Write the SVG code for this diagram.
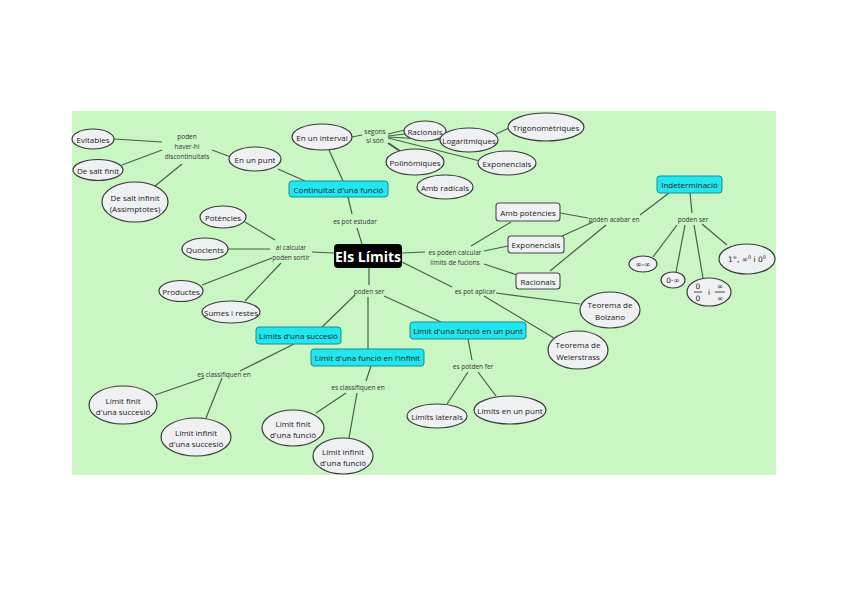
<svg xmlns="http://www.w3.org/2000/svg" width="848" height="599" viewBox="0 0 848 599">
<style>
text{font-family:"Open Sans","Liberation Sans",sans-serif;fill:#222;text-anchor:middle;dominant-baseline:central}
.n{font-size:8px}
.m{font-family:"DejaVu Sans",sans-serif;font-size:7.5px}
.l{font-size:6.5px;fill:#333}
.e{fill:#eef0f2;stroke:#3a3a3a;stroke-width:1.2}
.c{fill:#1fe6ef;stroke:#1a8d94;stroke-width:1}
.g{fill:#f0f1f2;stroke:#4a4a4a;stroke-width:1.1}
#connectors line{stroke:#45604a;stroke-width:1.2}
</style>
<rect x="0" y="0" width="848" height="599" fill="#fff"/>
<rect x="72" y="111" width="704" height="364" fill="#c9f6c3"/>
<g id="connectors">
<line x1="114" y1="139" x2="162" y2="142"/>
<line x1="122" y1="165" x2="162" y2="150"/>
<line x1="155" y1="186" x2="182" y2="164"/>
<line x1="212" y1="150" x2="231" y2="157"/>
<line x1="278" y1="169" x2="305" y2="181"/>
<line x1="329" y1="150" x2="343" y2="181"/>
<line x1="348" y1="197" x2="352" y2="214"/>
<line x1="357" y1="228" x2="362" y2="244"/>
<line x1="352" y1="137" x2="362" y2="135"/>
<line x1="388" y1="134" x2="405" y2="130"/>
<line x1="388" y1="136" x2="405" y2="134"/>
<line x1="388" y1="137" x2="442" y2="140"/>
<line x1="388" y1="138" x2="480" y2="161"/>
<line x1="388" y1="143" x2="400" y2="151" style="stroke-width:2"/>
<line x1="496" y1="134" x2="509" y2="128"/>
<line x1="245" y1="222" x2="275" y2="240"/>
<line x1="228" y1="249" x2="270" y2="249"/>
<line x1="202" y1="285" x2="272" y2="258"/>
<line x1="245" y1="301" x2="281" y2="263"/>
<line x1="312" y1="252" x2="334" y2="253"/>
<line x1="402" y1="253" x2="425" y2="252"/>
<line x1="471" y1="246" x2="511" y2="222"/>
<line x1="484" y1="251" x2="508" y2="246"/>
<line x1="484" y1="264" x2="517" y2="275"/>
<line x1="560" y1="213" x2="588" y2="218"/>
<line x1="562" y1="236" x2="593" y2="222"/>
<line x1="550" y1="271" x2="606" y2="225"/>
<line x1="640" y1="215" x2="669" y2="193"/>
<line x1="690" y1="193" x2="692" y2="213"/>
<line x1="677" y1="225" x2="653" y2="257"/>
<line x1="685" y1="225" x2="676" y2="272"/>
<line x1="694" y1="225" x2="703" y2="278"/>
<line x1="702" y1="224" x2="727" y2="245"/>
<line x1="402" y1="262" x2="452" y2="287"/>
<line x1="496" y1="293" x2="580" y2="304"/>
<line x1="484" y1="296" x2="554" y2="338"/>
<line x1="369" y1="268" x2="369" y2="285"/>
<line x1="355" y1="295" x2="322" y2="327"/>
<line x1="368" y1="297" x2="368" y2="349"/>
<line x1="384" y1="296" x2="441" y2="322"/>
<line x1="294" y1="344" x2="240" y2="371"/>
<line x1="204" y1="378" x2="155" y2="395"/>
<line x1="222" y1="378" x2="206" y2="418"/>
<line x1="371" y1="366" x2="366" y2="381"/>
<line x1="346" y1="393" x2="316" y2="413"/>
<line x1="357" y1="393" x2="349" y2="438"/>
<line x1="468" y1="339" x2="472" y2="360"/>
<line x1="468" y1="372" x2="447" y2="404"/>
<line x1="478" y1="372" x2="496" y2="396"/>
</g>
<g id="lbl-discont"><text class="l" x="187" y="136">poden</text><text class="l" x="187" y="146">haver-hi</text><text class="l" x="187" y="156">discontinuitats</text></g>
<g id="lbl-segons"><text class="l" x="375" y="131">segons</text><text class="l" x="375" y="140">si són</text></g>
<g id="lbl-estudar"><text class="l" x="355" y="221">es pot estudar</text></g>
<g id="lbl-alcalcular"><text class="l" x="291" y="247">al calcular</text><text class="l" x="291" y="257">poden sortir</text></g>
<g id="lbl-calcular"><text class="l" x="455" y="252">es poden calcular</text><text class="l" x="455" y="262">límits de fucions</text></g>
<g id="lbl-acabar"><text class="l" x="614" y="219">poden acabar en</text></g>
<g id="lbl-podenser2"><text class="l" x="693" y="219">poden ser</text></g>
<g id="lbl-aplicar"><text class="l" x="475" y="291">es pot aplicar</text></g>
<g id="lbl-podenser"><text class="l" x="369" y="291">poden ser</text></g>
<g id="lbl-class1"><text class="l" x="224" y="374">es classifiquen en</text></g>
<g id="lbl-class2"><text class="l" x="358" y="387">es classifiquen en</text></g>
<g id="lbl-fer"><text class="l" x="473" y="366">es potden fer</text></g>

<g id="evitables"><ellipse class="e" cx="93" cy="139" rx="21" ry="10"/><text class="n" x="93" y="139">Evitables</text></g>
<g id="saltfinit"><ellipse class="e" cx="98" cy="170" rx="25" ry="10.5"/><text class="n" x="98" y="170">De salt finit</text></g>
<g id="saltinfinit"><ellipse class="e" cx="135" cy="202" rx="33" ry="20"/><text class="n" x="135" y="197">De salt infinit</text><text class="n" x="135" y="208">(Assimptotes)</text></g>
<g id="enunpunt"><ellipse class="e" cx="255" cy="159" rx="26" ry="12"/><text class="n" x="255" y="159">En un punt</text></g>
<g id="eninterval"><ellipse class="e" cx="322" cy="137" rx="30" ry="13"/><text class="n" x="322" y="137">En un interval</text></g>
<g id="trigo"><ellipse class="e" cx="546" cy="127" rx="38" ry="14"/><text class="n" x="546" y="127">Trigonomètriques</text></g>
<g id="racionals1"><ellipse class="e" cx="425" cy="131" rx="21" ry="10"/><text class="n" x="425" y="131">Racionals</text></g>
<g id="logaritmiques"><ellipse class="e" cx="469" cy="140" rx="29" ry="12"/><text class="n" x="469" y="140">Logarítmiques</text></g>
<g id="exponencials1"><ellipse class="e" cx="507" cy="163" rx="29" ry="12"/><text class="n" x="507" y="163">Exponencials</text></g>
<g id="polinomiques"><ellipse class="e" cx="415" cy="162" rx="29" ry="13"/><text class="n" x="415" y="162">Polinòmiques</text></g>
<g id="radicals"><ellipse class="e" cx="445" cy="187" rx="28" ry="12"/><text class="n" x="445" y="187">Amb radicals</text></g>
<g id="continuitat"><rect class="c" x="289" y="181" width="99" height="16" rx="3"/><text class="n" x="338.5" y="189">Continuïtat d'una funció</text></g>
<g id="elslimits"><rect x="334" y="244" width="68" height="24" rx="4" fill="#000"/><text x="368" y="256" style="font-size:14px;font-weight:bold;fill:#fff">Els Límits</text></g>
<g id="potencies"><ellipse class="e" cx="223" cy="217" rx="23" ry="11"/><text class="n" x="223" y="217">Potències</text></g>
<g id="quocients"><ellipse class="e" cx="205" cy="249" rx="23" ry="11"/><text class="n" x="205" y="249">Quocients</text></g>
<g id="productes"><ellipse class="e" cx="181" cy="291" rx="22" ry="10.5"/><text class="n" x="181" y="291">Productes</text></g>
<g id="sumes"><ellipse class="e" cx="231" cy="312" rx="29" ry="11"/><text class="n" x="231" y="312">Sumes i restes</text></g>
<g id="ambpotencies"><rect class="g" x="496" y="203" width="64" height="18" rx="3"/><text class="n" x="528" y="212">Amb potències</text></g>
<g id="exponencials2"><rect class="g" x="508" y="236" width="56" height="17" rx="3"/><text class="n" x="536" y="244.5">Exponencials</text></g>
<g id="racionals2"><rect class="g" x="516" y="273" width="44" height="16" rx="3"/><text class="n" x="538" y="281">Racionals</text></g>
<g id="indeterminacio"><rect class="c" x="657" y="176" width="65" height="17" rx="3"/><text class="n" x="689.5" y="184.5">Indeterminació</text></g>
<g id="infmenysinf"><ellipse class="e" cx="643" cy="264" rx="14" ry="8"/><text class="m" x="643" y="264">∞-∞</text></g>
<g id="zeroinf"><ellipse class="e" cx="673" cy="280" rx="12" ry="8"/><text class="m" x="673" y="280">0·∞</text></g>
<g id="fraccions"><ellipse class="e" cx="709" cy="292" rx="22" ry="14"/>
<text class="m" x="698" y="286">0</text><line x1="694" y1="292" x2="702" y2="292" stroke="#222" stroke-width="0.8"/><text class="m" x="698" y="298">0</text>
<text class="m" x="709" y="292">i</text>
<text class="m" x="720" y="286">∞</text><line x1="715" y1="292" x2="725" y2="292" stroke="#222" stroke-width="0.8"/><text class="m" x="720" y="298">∞</text></g>
<g id="potinf"><ellipse class="e" cx="747" cy="259" rx="28" ry="15"/><text class="m" x="747" y="262" style="dominant-baseline:auto">1<tspan baseline-shift="super" font-size="5">∞</tspan>, ∞<tspan baseline-shift="super" font-size="5">0</tspan> i 0<tspan baseline-shift="super" font-size="5">0</tspan></text></g>
<g id="bolzano"><ellipse class="e" cx="610" cy="310" rx="30" ry="18"/><text class="n" x="610" y="304">Teorema de</text><text class="n" x="610" y="316">Bolzano</text></g>
<g id="weierstrass"><ellipse class="e" cx="578" cy="350" rx="30" ry="19"/><text class="n" x="578" y="344">Teorema de</text><text class="n" x="578" y="356">Weierstrass</text></g>
<g id="succesio"><rect class="c" x="256" y="327" width="85" height="17" rx="3"/><text class="n" x="298.5" y="335.5">Límits d'una succesió</text></g>
<g id="infinit"><rect class="c" x="311" y="349" width="113" height="17" rx="3"/><text class="n" x="367.5" y="357.5">Límit d'una funció en l'infinit</text></g>
<g id="enunpuntlim"><rect class="c" x="410" y="322" width="116" height="17" rx="3"/><text class="n" x="468" y="330.5">Límit d'una funció en un punt</text></g>
<g id="finitsucc"><ellipse class="e" cx="123" cy="405" rx="34" ry="19"/><text class="n" x="123" y="400">Límit finit</text><text class="n" x="123" y="411">d'una succesió</text></g>
<g id="infinitsucc"><ellipse class="e" cx="196" cy="437" rx="35" ry="19"/><text class="n" x="196" y="432">Límit infinit</text><text class="n" x="196" y="443">d'una succesió</text></g>
<g id="finitfunc"><ellipse class="e" cx="293" cy="428" rx="31" ry="18"/><text class="n" x="293" y="423">Límit finit</text><text class="n" x="293" y="434">d'una funció</text></g>
<g id="infinitfunc"><ellipse class="e" cx="343" cy="456" rx="30" ry="18"/><text class="n" x="343" y="451">Límit infinit</text><text class="n" x="343" y="462">d'una funció</text></g>
<g id="laterals"><ellipse class="e" cx="437" cy="416" rx="30" ry="12"/><text class="n" x="437" y="416">Límits laterals</text></g>
<g id="limenunpunt"><ellipse class="e" cx="510" cy="410" rx="36" ry="14"/><text class="n" x="510" y="410">Límits en un punt</text></g>
</svg>
